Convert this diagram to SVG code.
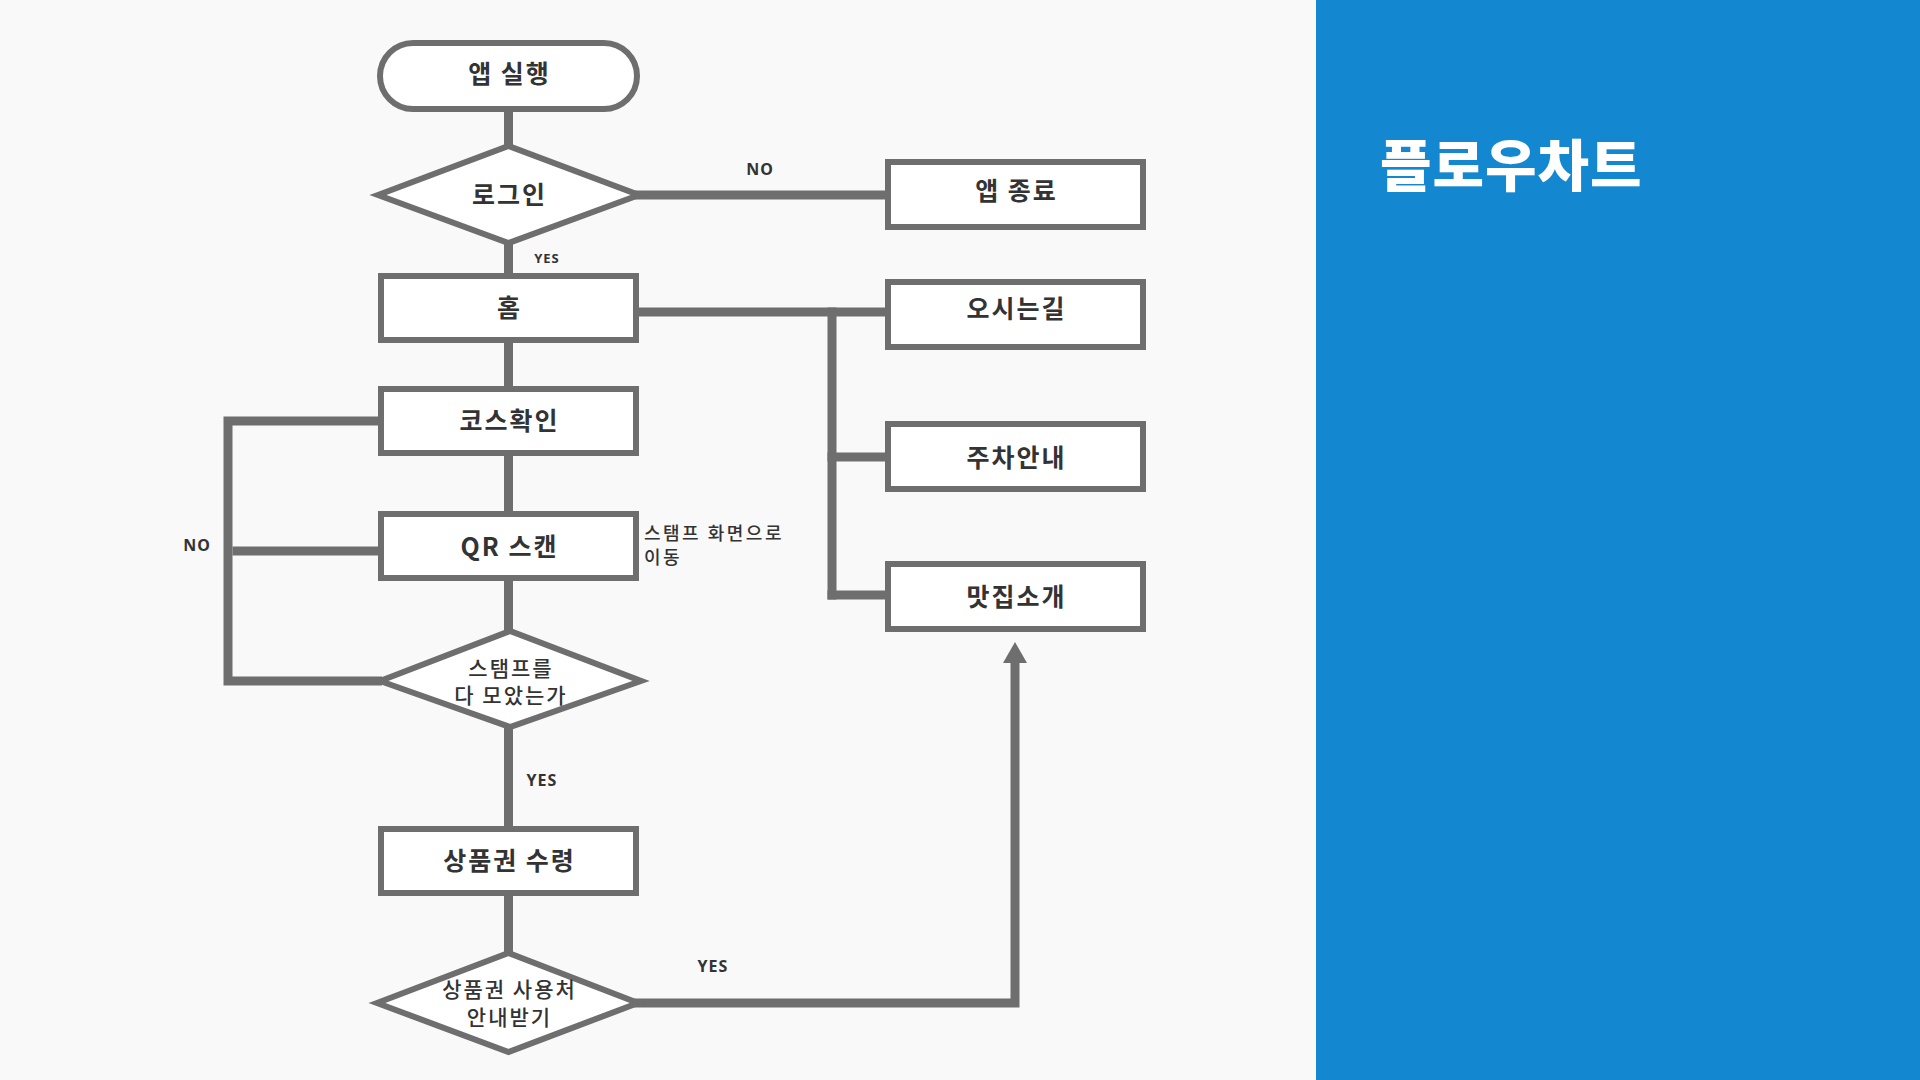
<svg xmlns="http://www.w3.org/2000/svg" width="1920" height="1080" viewBox="0 0 1920 1080">
<defs>
<style>
.node{fill:#ffffff;stroke:#6e6e6e;stroke-width:6}
.con{fill:none;stroke:#6e6e6e;stroke-width:9;stroke-linejoin:miter}
.t{font-family:"Noto Sans CJK KR","Noto Sans",sans-serif;font-weight:700;font-size:25px;fill:#333333;text-anchor:middle;dominant-baseline:central;letter-spacing:2px}
.td{font-family:"Noto Sans CJK KR","Noto Sans",sans-serif;font-weight:500;font-size:21px;fill:#333333;text-anchor:middle;dominant-baseline:central;letter-spacing:2px}
.lbl{font-family:"Noto Sans","Noto Sans CJK KR",sans-serif;font-weight:700;font-size:16px;fill:#333333;text-anchor:middle;dominant-baseline:central;letter-spacing:1px}
.note{font-family:"Noto Sans CJK KR","Noto Sans",sans-serif;font-weight:500;font-size:18px;fill:#333333;dominant-baseline:central;letter-spacing:2.5px}
</style>
</defs>
<rect x="0" y="0" width="1920" height="1080" fill="#f9f9f9"/>
<rect x="1316" y="0" width="604" height="1080" fill="#1387cf"/>
<text x="1380" y="161" font-family="Noto Sans CJK KR,sans-serif" font-weight="900" font-size="56" letter-spacing="1" fill="#ffffff" dominant-baseline="central">플로우차트</text>

<g id="connectors">
<line class="con" x1="508.5" y1="110" x2="508.5" y2="147"/>
<line class="con" x1="508.5" y1="242" x2="508.5" y2="277"/>
<line class="con" x1="635" y1="195" x2="889" y2="195"/>
<line class="con" x1="508.5" y1="340" x2="508.5" y2="390"/>
<polyline class="con" points="636,312 832,312 889,312"/>
<line class="con" x1="832" y1="307.5" x2="832" y2="599.5"/>
<line class="con" x1="827.5" y1="457" x2="889" y2="457"/>
<line class="con" x1="827.5" y1="595" x2="889" y2="595"/>
<line class="con" x1="508.5" y1="452" x2="508.5" y2="515"/>
<line class="con" x1="508.5" y1="578" x2="508.5" y2="633"/>
<polyline class="con" points="382,421 228,421 228,681 382,681"/>
<line class="con" x1="232.5" y1="551" x2="382" y2="551"/>
<line class="con" x1="508.5" y1="725" x2="508.5" y2="830"/>
<line class="con" x1="508.5" y1="892" x2="508.5" y2="956"/>
<polyline class="con" points="634,1003 1015,1003 1015,660"/>
<polygon points="1015,642 1003,663 1027,663" fill="#6e6e6e"/>
</g>

<g id="n-start"><rect class="node" x="380" y="43" width="257" height="66" rx="33"/><text class="t" x="509.5" y="72">앱 실행</text></g>
<g id="n-login"><polygon class="node" points="378,195 508.5,146 639,195 508.5,243"/><text class="t" x="509.5" y="193">로그인</text></g>
<g id="n-exit"><rect class="node" x="888" y="162" width="255" height="65"/><text class="t" x="1016.5" y="189">앱 종료</text></g>
<g id="n-home"><rect class="node" x="381" y="276" width="255" height="64"/><text class="t" x="509.5" y="306">홈</text></g>
<g id="n-route"><rect class="node" x="888" y="282" width="255" height="65"/><text class="t" x="1016.5" y="307">오시는길</text></g>
<g id="n-course"><rect class="node" x="381" y="389" width="255" height="64"/><text class="t" x="509.5" y="419">코스확인</text></g>
<g id="n-parking"><rect class="node" x="888" y="424" width="255" height="65"/><text class="t" x="1016.5" y="456">주차안내</text></g>
<g id="n-qr"><rect class="node" x="381" y="514" width="255" height="64"/><text class="t" x="509.5" y="545">QR 스캔</text></g>
<g id="n-food"><rect class="node" x="888" y="564" width="255" height="65"/><text class="t" x="1016.5" y="595">맛집소개</text></g>
<g id="n-stamp"><polygon class="node" points="380,681 510,631 641,681 510,727"/><text class="td" x="511" y="667">스탬프를</text><text class="td" x="511" y="694">다 모았는가</text></g>
<g id="n-gift"><rect class="node" x="381" y="829" width="255" height="64"/><text class="t" x="509.5" y="859">상품권 수령</text></g>
<g id="n-use"><polygon class="node" points="377,1003 508.5,953 638,1003 508.5,1052"/><text class="td" x="509.5" y="988">상품권 사용처</text><text class="td" x="509.5" y="1016">안내받기</text></g>

<g id="labels">
<text class="lbl" x="760" y="169">NO</text>
<text class="lbl" x="547" y="258" style="font-size:13px">YES</text>
<text class="lbl" x="197" y="545">NO</text>
<text class="lbl" x="542" y="780">YES</text>
<text class="lbl" x="713" y="966">YES</text>
<text class="note" x="644" y="532">스탬프 화면으로</text>
<text class="note" x="644" y="556">이동</text>
</g>
</svg>
